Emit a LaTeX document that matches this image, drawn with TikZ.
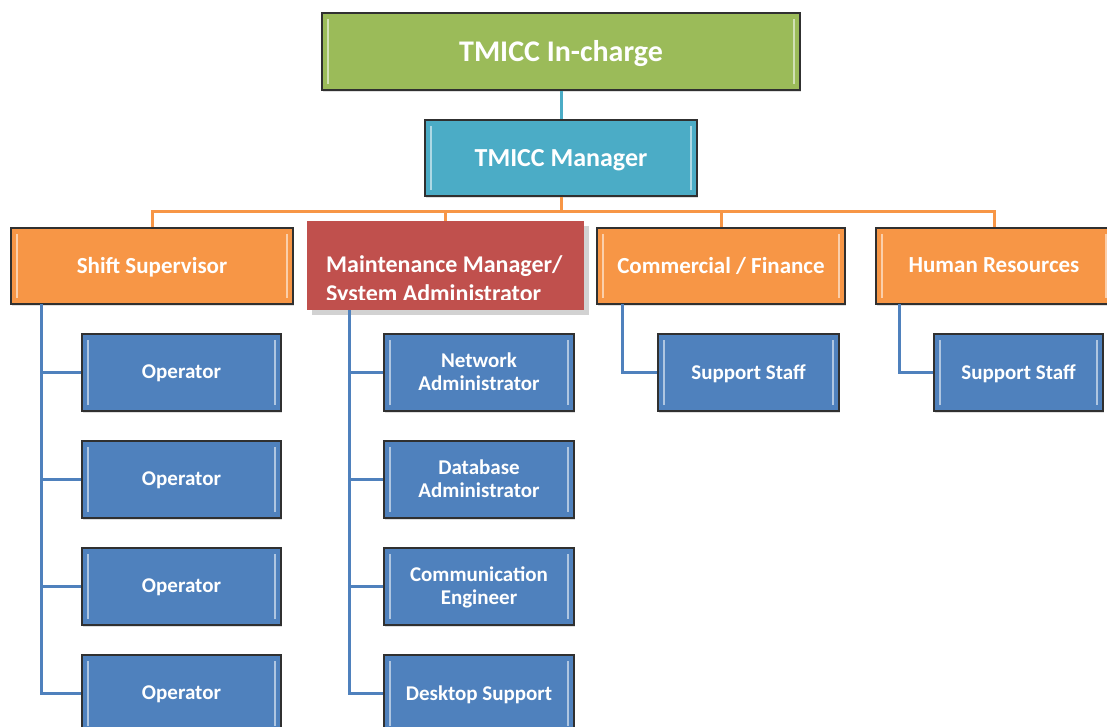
\documentclass[tikz,border=0pt]{standalone}
\usepackage{fontspec}
\setmainfont{Carlito}
\usetikzlibrary{shadows}
\definecolor{cgreen}{HTML}{9BBB59}
\definecolor{cteal}{HTML}{4BACC6}
\definecolor{corange}{HTML}{F79646}
\definecolor{cred}{HTML}{C0504D}
\definecolor{cblue}{HTML}{4F81BD}
\definecolor{cborder}{HTML}{303030}
\tikzset{
  bevel/.style={path picture={
    \draw[white,opacity=0.55,line width=2pt]
      ([xshift=6pt,yshift=-6pt]path picture bounding box.north west) --
      ([xshift=6pt,yshift=6pt]path picture bounding box.south west);
    \draw[white,opacity=0.55,line width=2pt]
      ([xshift=-6pt,yshift=-6pt]path picture bounding box.north east) --
      ([xshift=-6pt,yshift=6pt]path picture bounding box.south east);
  }},
  box/.style={draw=cborder, line width=1.5pt, text=white, font=\bfseries,
    align=center, inner sep=0pt, bevel, text depth=1pt,
    drop shadow={shadow xshift=1pt, shadow yshift=-2pt, opacity=0.25}},
  topbox/.style={box, fill=cgreen, minimum width=478pt, minimum height=77pt,
    font=\bfseries\fontsize{30}{33}\selectfont},
  mgrbox/.style={box, fill=cteal, minimum width=272pt, minimum height=76pt,
    font=\bfseries\fontsize{26}{29}\selectfont},
  obox/.style={box, fill=corange, minimum height=76pt,
    font=\bfseries\fontsize{23}{26}\selectfont},
  cbox/.style={box, fill=cblue, minimum height=77pt,
    font=\bfseries\fontsize{21}{23}\selectfont},
  oline/.style={draw=corange, line width=3pt},
  bline/.style={draw=cblue, line width=3pt},
  tline/.style={draw=cteal, line width=3pt},
}
\begin{document}
\begin{tikzpicture}[x=1pt,y=-1pt]
\clip (0,0) rectangle (1107,727);
\fill[white] (0,0) rectangle (1107,727);

% top
\node[topbox] (top) at (561,51.5) {TMICC In-charge};
\node[mgrbox] (mgr) at (561,158) {TMICC Manager};
\draw[tline] (top.south) -- (mgr.north);

% second level
\node[obox, minimum width=282pt] (ss) at (152,266) {Shift Supervisor};
\node[fill=cred, minimum width=277pt, minimum height=89pt, inner sep=0pt,
  drop shadow={shadow xshift=5pt, shadow yshift=-5pt, opacity=0.35}] (mm) at (445.5,265.5) {};
\begin{scope}
  \clip (307,221) rectangle (584,299.5);
  \node[anchor=west, text=white, align=left, inner sep=0pt,
    font=\bfseries\fontsize{24}{29}\selectfont] (mmt) at (326,280)
    {Maintenance Manager/\\System Administrator};
\end{scope}
\node[obox, minimum width=248pt] (cf) at (721,266) {Commercial / Finance};
\node[obox, minimum width=236pt] (hr) at (994,266) {Human Resources};

\coordinate (bus) at (561,212);
\draw[oline] (mgr.south) -- (bus);
\draw[oline] (ss.north) |- (bus) -| (hr.north);
\draw[oline] (mm.north) -- (mm.north |- bus);
\draw[oline] (cf.north) -- (cf.north |- bus);

% shift supervisor children
\node[cbox, minimum width=199pt] (op1) at (181.5,372.5) {Operator};
\node[cbox, minimum width=199pt] (op2) at (181.5,479.5) {Operator};
\node[cbox, minimum width=199pt] (op3) at (181.5,586.5) {Operator};
\node[cbox, minimum width=199pt] (op4) at (181.5,693.5) {Operator};
\coordinate (sl) at (41,304);
\draw[bline] (sl) |- (op4.west);
\foreach \n in {op1,op2,op3} \draw[bline] (sl |- \n.west) -- (\n.west);

% maintenance children
\node[cbox, minimum width=190pt] (na) at (479,372.5) {Network\\Administrator};
\node[cbox, minimum width=190pt] (da) at (479,479.5) {Database\\Administrator};
\node[cbox, minimum width=190pt] (ce) at (479,586.5) {Communication\\Engineer};
\node[cbox, minimum width=190pt] (ds) at (479,693.5) {Desktop Support};
\coordinate (ml) at (349,310);
\draw[bline] (ml) |- (ds.west);
\foreach \n in {na,da,ce} \draw[bline] (ml |- \n.west) -- (\n.west);

% commercial / HR children
\node[cbox, minimum width=181pt] (s1) at (748.5,372.5) {Support Staff};
\node[cbox, minimum width=169pt] (s2) at (1018.5,372.5) {Support Staff};
\draw[bline] (622,304) |- (s1.west);
\draw[bline] (899,304) |- (s2.west);
\end{tikzpicture}
\end{document}
